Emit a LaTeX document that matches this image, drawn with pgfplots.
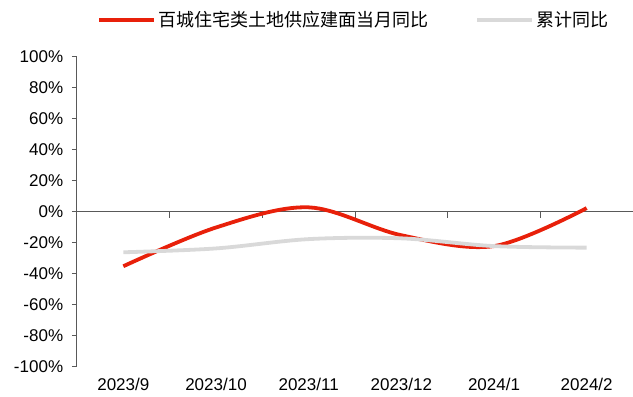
\documentclass[border=0pt]{standalone}
\usepackage{pgfplots}
\pgfplotsset{compat=1.18}
\usepackage{fontspec}
\setmainfont{Liberation Sans}
\newfontfamily\cjk{Noto Sans CJK SC}
\definecolor{myred}{RGB}{232,32,10}
\definecolor{mygray}{RGB}{217,217,217}
\definecolor{axgray}{RGB}{89,89,89}
\begin{document}
\fontsize{17}{20}\selectfont
\begin{tikzpicture}
\begin{axis}[
  scale only axis, width=556pt, height=310pt,
  xmin=-0.5, xmax=5.5, ymin=-100, ymax=100,
  axis x line*=bottom, axis y line*=left,
  x axis line style={draw=none},
  y axis line style={axgray, line width=1pt},
  xtick={0,1,2,3,4,5},
  xticklabels={2023/9,2023/10,2023/11,2023/12,2024/1,2024/2},
  major x tick style={draw=none},
  xticklabel style={yshift=0pt},
  yticklabel style={xshift=-3pt},
  ytick={-100,-80,...,100},
  yticklabel={\pgfmathprintnumber{\tick}\%},
  major y tick style={axgray, line width=1pt},
  tick align=outside, major tick length=5pt,
  /pgf/number format/assume math mode=true,
  ticklabel style={font=\fontsize{17}{20}\selectfont},
  legend columns=2,
  legend style={at={(rel axis cs:0.036,1)}, anchor=west, yshift=37pt,
    draw=none, fill=none, inner sep=0pt,
    font=\cjk\fontsize{18}{21}\selectfont,
    /tikz/every even column/.append style={column sep=45pt}},
  legend image code/.code={\draw[#1, line width=4pt] (0pt,0pt) -- (55pt,0pt);},
  clip=false,
]
\draw[axgray, line width=1pt] (axis cs:-0.5,0) -- (axis cs:5.5,0);
\pgfplotsinvokeforeach{0.5,1.5,2.5,3.5,4.5}{
  \draw[axgray, line width=1pt] (axis cs:#1,0) -- ([yshift=-6pt]axis cs:#1,0);
}
\addplot[myred, line width=3.8pt, smooth, tension=0.55] coordinates {
  (0,-35) (1,-10) (2,3) (3,-15) (4,-22) (5,2.5)
};
\addlegendentry{百城住宅类土地供应建面当月同比}
\addplot[mygray, line width=3.8pt, smooth, tension=0.55] coordinates {
  (0,-26) (1,-23.5) (2,-17.5) (3,-17) (4,-22) (5,-23)
};
\addlegendentry{累计同比}
\end{axis}
\pgfresetboundingbox
\path ([shift={(-77pt,-30pt)}]current axis.south west) rectangle ([shift={(0pt,57pt)}]current axis.north east);
\end{tikzpicture}
\end{document}
